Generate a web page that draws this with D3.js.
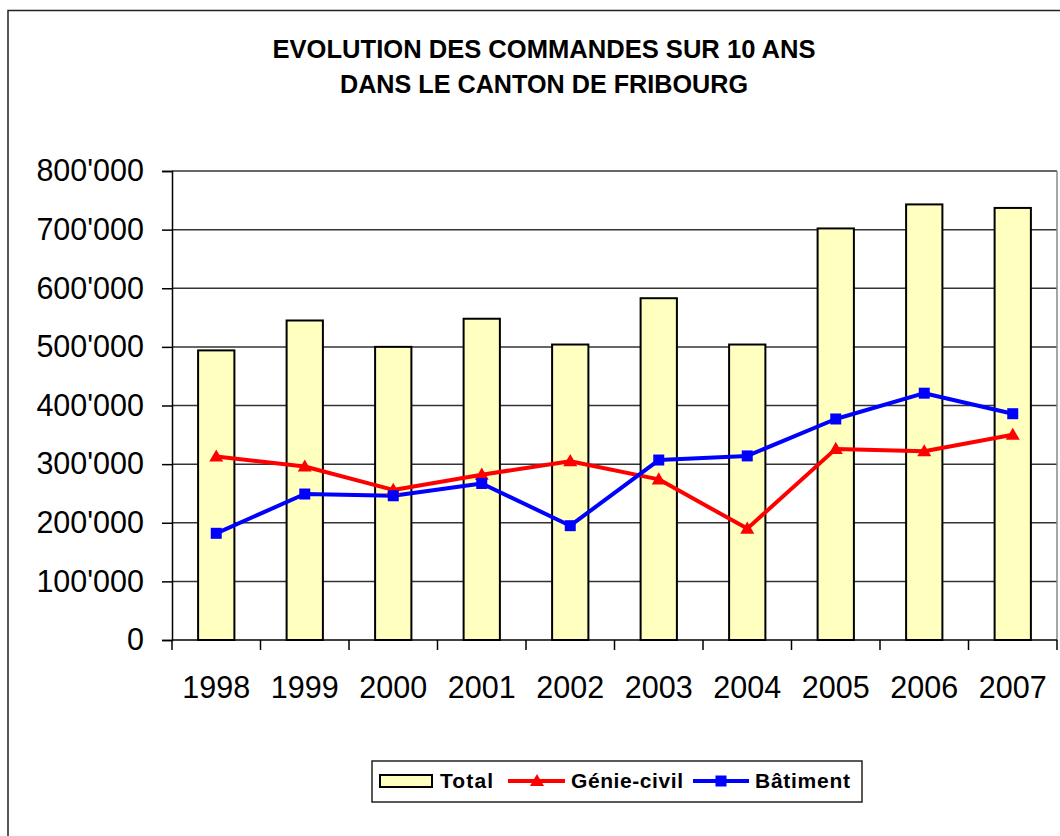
<!DOCTYPE html>
<html>
<head>
<meta charset="utf-8">
<script src="https://d3js.org/d3.v7.min.js"></script>
<style>
  html, body { margin: 0; padding: 0; background: #fff; }
  svg { display: block; }
</style>
</head>
<body>
<svg id="chart" width="1060" height="836"></svg>
<script>
const years = ["1998","1999","2000","2001","2002","2003","2004","2005","2006","2007"];
const total = [494000, 545000, 500000, 548000, 504000, 583000, 504000, 702000, 743000, 737000];
const genieCivil = [313000, 296000, 256000, 282000, 305000, 274000, 190000, 326000, 322000, 350000];
const batiment = [182000, 249000, 246000, 267000, 195000, 307000, 314000, 377000, 421000, 386000];
const yTicks = [0, 100000, 200000, 300000, 400000, 500000, 600000, 700000, 800000];
const titleLines = ["EVOLUTION DES COMMANDES SUR 10 ANS", "DANS LE CANTON DE FRIBOURG"];
const legendLabels = ["Total", "Génie-civil", "Bâtiment"];

const svg = d3.select("#chart");
const M = {left: 172, right: 1057, top: 171, bottom: 640};

// outer frame
svg.append("rect").attr("x", 8).attr("y", 10.5).attr("width", 1080).attr("height", 860)
  .attr("fill", "#fff").attr("stroke", "#222").attr("stroke-width", 1.5);

// title
const titleW = [543, 408];
svg.selectAll("text.title").data(titleLines).enter().append("text")
  .attr("class", "title")
  .attr("x", 544).attr("y", (d, i) => 58 + i * 35)
  .attr("text-anchor", "middle")
  .attr("font-family", "Liberation Sans, Arial, sans-serif")
  .attr("font-weight", "bold").attr("font-size", 25)
  .attr("textLength", (d, i) => titleW[i]).attr("lengthAdjust", "spacingAndGlyphs")
  .attr("fill", "#000")
  .text(d => d);

const x = d3.scaleBand().domain(years).range([M.left, M.right])
  .paddingInner(0.59).paddingOuter(0.295);
const y = d3.scaleLinear().domain([0, 800000]).range([M.bottom, M.top]);

const fmt = v => v === 0 ? "0" : d3.format(",")(v).replace(/,/g, "'");

// gridlines
svg.append("g").selectAll("line").data(yTicks.filter(d => d > 0)).enter().append("line")
  .attr("x1", M.left).attr("x2", M.right)
  .attr("y1", d => y(d)).attr("y2", d => y(d))
  .attr("stroke", "#333").attr("stroke-width", 1.5);

// plot right border
svg.append("line").attr("x1", M.right).attr("x2", M.right).attr("y1", M.top).attr("y2", M.bottom)
  .attr("stroke", "#888").attr("stroke-width", 1.5);

// bars
svg.append("g").selectAll("rect").data(years).enter().append("rect")
  .attr("x", d => x(d)).attr("width", x.bandwidth())
  .attr("y", (d, i) => y(total[i])).attr("height", (d, i) => y(0) - y(total[i]))
  .attr("fill", "#FFFFC0").attr("stroke", "#000").attr("stroke-width", 2);

// y axis
const yAxis = d3.axisLeft(y).tickValues(yTicks).tickFormat(fmt).tickSize(10).tickPadding(18);
const gy = svg.append("g").attr("transform", `translate(${M.left},0)`).call(yAxis);
gy.select(".domain").attr("stroke", "#000").attr("stroke-width", 1.5);
gy.selectAll(".tick line").attr("stroke", "#000").attr("stroke-width", 1.5);
gy.selectAll("text").attr("font-family", "Liberation Sans, Arial, sans-serif")
  .attr("font-size", 30.5).attr("fill", "#000");

// x axis with ticks at band boundaries
const xAxisG = svg.append("g").attr("transform", `translate(0,${M.bottom})`);
xAxisG.append("line").attr("x1", M.left).attr("x2", M.right).attr("y1", 0).attr("y2", 0)
  .attr("stroke", "#000").attr("stroke-width", 1.5);
const step = x.step();
const boundaries = years.map(d => x(d) - (step - x.bandwidth()) / 2).concat([M.right]);
xAxisG.selectAll("line.tk").data(boundaries).enter().append("line").attr("class", "tk")
  .attr("x1", d => d).attr("x2", d => d).attr("y1", 0).attr("y2", 10)
  .attr("stroke", "#000").attr("stroke-width", 1.5);
xAxisG.selectAll("text").data(years).enter().append("text")
  .attr("x", d => x(d) + x.bandwidth() / 2).attr("y", 58)
  .attr("text-anchor", "middle")
  .attr("font-family", "Liberation Sans, Arial, sans-serif")
  .attr("font-size", 30.5).attr("fill", "#000")
  .text(d => d);

const cx = d => x(d) + x.bandwidth() / 2;

// lines
const lineG = d3.line().x((d, i) => cx(years[i])).y(d => y(d));
svg.append("path").datum(genieCivil).attr("d", lineG)
  .attr("fill", "none").attr("stroke", "#FF0000").attr("stroke-width", 4).attr("stroke-linejoin", "round");
svg.append("path").datum(batiment).attr("d", lineG)
  .attr("fill", "none").attr("stroke", "#0000FF").attr("stroke-width", 4).attr("stroke-linejoin", "round");

const tri = d3.symbol().type(d3.symbolTriangle).size(85);
svg.append("g").selectAll("path").data(genieCivil).enter().append("path")
  .attr("d", tri).attr("transform", (d, i) => `translate(${cx(years[i])},${y(d) + 1})`)
  .attr("fill", "#FF0000");
svg.append("g").selectAll("rect").data(batiment).enter().append("rect")
  .attr("x", (d, i) => cx(years[i]) - 5.5).attr("y", d => y(d) - 5.5)
  .attr("width", 11).attr("height", 11).attr("fill", "#0000FF");

// legend
const lg = svg.append("g");
lg.append("rect").attr("x", 372).attr("y", 761).attr("width", 490).attr("height", 41)
  .attr("fill", "#fff").attr("stroke", "#222").attr("stroke-width", 1.5);
lg.append("rect").attr("x", 380).attr("y", 775).attr("width", 52).attr("height", 12)
  .attr("fill", "#FFFFC0").attr("stroke", "#000").attr("stroke-width", 2);
lg.append("line").attr("x1", 508).attr("x2", 565).attr("y1", 781).attr("y2", 781)
  .attr("stroke", "#FF0000").attr("stroke-width", 4);
lg.append("path").attr("d", tri).attr("transform", "translate(537,782)").attr("fill", "#FF0000");
lg.append("line").attr("x1", 693).attr("x2", 749).attr("y1", 781).attr("y2", 781)
  .attr("stroke", "#0000FF").attr("stroke-width", 4);
lg.append("rect").attr("x", 715.5).attr("y", 775.5).attr("width", 11).attr("height", 11).attr("fill", "#0000FF");
const legX = [440, 571, 755];
const legW = [53, 112, 95];
lg.selectAll("text").data(legendLabels).enter().append("text")
  .attr("x", (d, i) => legX[i]).attr("y", 788)
  .attr("font-family", "Liberation Sans, Arial, sans-serif")
  .attr("font-weight", "bold").attr("font-size", 21).attr("fill", "#000")
  .attr("textLength", (d, i) => legW[i]).attr("lengthAdjust", "spacing")
  .text(d => d);
</script>
</body>
</html>
